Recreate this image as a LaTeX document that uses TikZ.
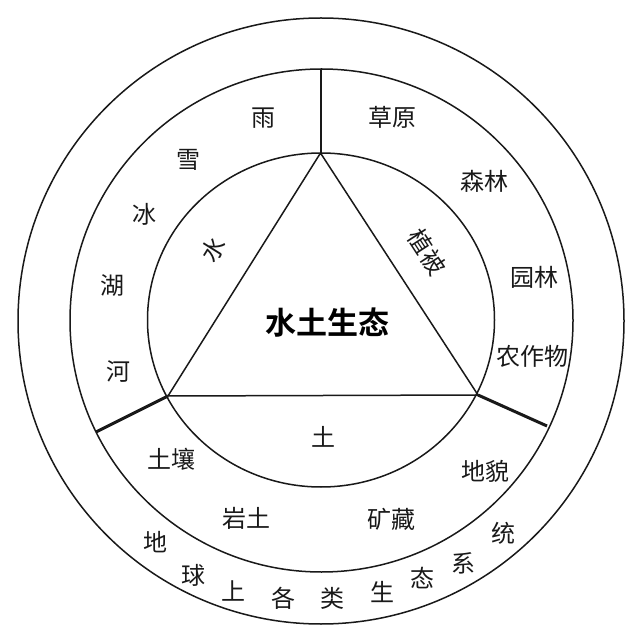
\documentclass[tikz,border=0pt]{standalone}
\usepackage{fontspec}
\setmainfont{Noto Sans CJK SC}
\newfontfamily\cjkbold{Noto Sans CJK SC Bold}
\begin{document}
\begin{tikzpicture}[x=1pt,y=-1pt,
  ring/.style={draw=black!90, line width=1.5pt},
  divider/.style={draw=black!90, line width=3pt},
  vline/.style={draw=black!90, line width=2pt},
  tri/.style={draw=black!90, line width=1.5pt, line join=round},
  lbl/.style={inner sep=0pt, font=\fontsize{24}{24}\selectfont, text=black!90},
  title/.style={inner sep=0pt, font=\cjkbold\fontsize{31}{31}\selectfont, text=black}]
\useasboundingbox[fill=white] (0,0) rectangle (640,636);
% circles
\draw[ring] (321,321) circle [radius=303pt];
\draw[ring] (321.5,320.5) circle [radius=251.5pt];
\draw[ring] (321,320) ellipse [x radius=173.5pt, y radius=167pt];
% triangle vertices and ring ends
\coordinate (A) at (320.5,153);
\coordinate (B) at (168,396);
\coordinate (C) at (478,395);
\coordinate (At) at (320.5,69);
\coordinate (Bt) at (96,432);
\coordinate (Ct) at (547,426);
\draw[tri] (A) -- (B) -- (C) -- cycle;
\draw[vline] (A) -- (At);
\draw[divider] (B) -- (Bt);
\draw[divider] (C) -- (Ct);
% centre
\node[title] (t) at (327,323) {水土生态};
\node[lbl, rotate=58] (shui) at (213,250) {水};
\node[lbl, rotate=-57] (zhibei) at (427,252) {植被};
\node[lbl] (tu) at (323,437) {土};
% water ring
\node[lbl] (yu) at (263,118) {雨};
\node[lbl] (xue) at (188,160) {雪};
\node[lbl] (bing) at (144,214) {冰};
\node[lbl] (hu) at (112,286) {湖};
\node[lbl] (he) at (118,372) {河};
% vegetation ring
\node[lbl] (caoyuan) at (392,117) {草原};
\node[lbl] (senlin) at (484,181) {森林};
\node[lbl] (yuanlin) at (534,277) {园林};
\node[lbl] (nong) at (532,356) {农作物};
% soil ring
\node[lbl] (turang) at (171,459) {土壤};
\node[lbl] (yantu) at (246,518) {岩土};
\node[lbl] (kuang) at (391,519) {矿藏};
\node[lbl] (dimao) at (485,471) {地貌};
% outer ring
\node[lbl] (o1) at (155,542) {地};
\node[lbl] (o2) at (193,575) {球};
\node[lbl] (o3) at (233,591) {上};
\node[lbl] (o4) at (283,598) {各};
\node[lbl] (o5) at (332,598) {类};
\node[lbl] (o6) at (382,592) {生};
\node[lbl] (o7) at (422,578) {态};
\node[lbl] (o8) at (463,563) {系};
\node[lbl] (o9) at (503,533) {统};
\end{tikzpicture}
\end{document}
